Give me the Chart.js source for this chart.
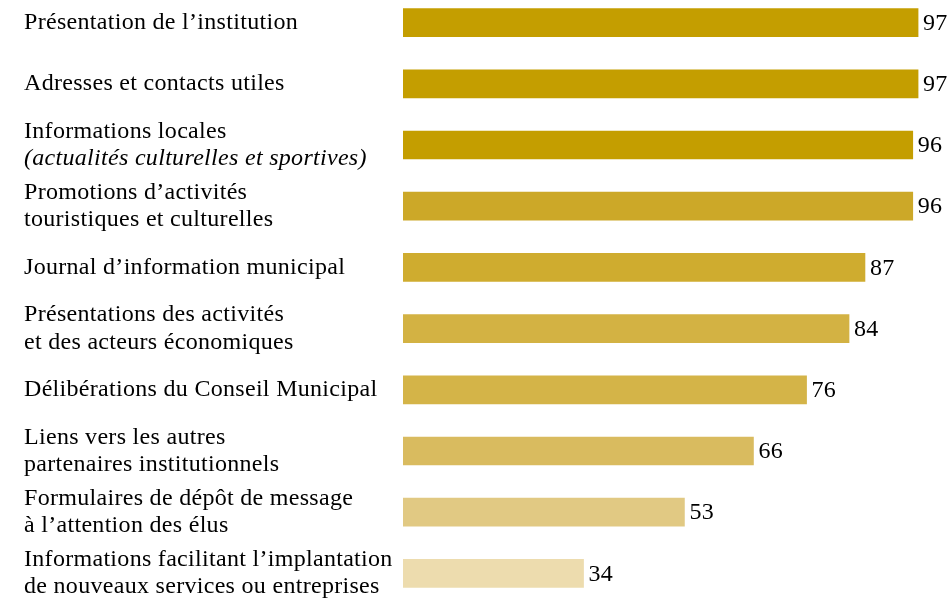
<!DOCTYPE html>
<html>
<head>
<meta charset="utf-8">
<script src="https://cdn.jsdelivr.net/npm/chart.js@4.4.1/dist/chart.umd.min.js"></script>
<style>
  html, body { margin: 0; background: #fff; overflow: hidden; }
  #wrap { width: 951px; height: 604px; overflow: hidden; }
  #barChart { display: block; margin-top: -8px; }
</style>
</head>
<body>
<div id="wrap"><canvas id="barChart" width="951" height="612"></canvas></div>
<script>
// Rubriques du site (une ligne par élément du tableau)
const categories = [
    ['Présentation de l’institution'],
    ['Adresses et contacts utiles'],
    ['Informations locales', '(actualités culturelles et sportives)'],
    ['Promotions d’activités', 'touristiques et culturelles'],
    ['Journal d’information municipal'],
    ['Présentations des activités', 'et des acteurs économiques'],
    ['Délibérations du Conseil Municipal'],
    ['Liens vers les autres', 'partenaires institutionnels'],
    ['Formulaires de dépôt de message', 'à l’attention des élus'],
    ['Informations facilitant l’implantation', 'de nouveaux services ou entreprises']
];
const values = [97, 97, 96, 96, 87, 84, 76, 66, 53, 34];

const barColors = [
    '#c49e00', '#c49e00', '#c49e00',
    '#cca828', '#cfac2f', '#d3b243', '#d4b448',
    '#d9bb5f', '#e1c983', '#eddcae'
];

const FONT = '"Liberation Serif", "DejaVu Serif", serif';

// Libellés à gauche et valeurs en bout de barre
const sideLabels = {
    id: 'sideLabels',
    afterDatasetsDraw(chart) {
        const ctx = chart.ctx;
        const meta = chart.getDatasetMeta(0);
        const lh = 27.5;
        ctx.save();
        ctx.fillStyle = '#000';
        ctx.textAlign = 'left';
        ctx.textBaseline = 'middle';
        ctx.letterSpacing = '0.3px';
        meta.data.forEach((bar, i) => {
            ctx.font = '24px ' + FONT;
            ctx.fillText(String(values[i]), bar.x + 5, bar.y + 1);

            const lines = categories[i];
            const top = bar.y - (lines.length - 1) * lh / 2;
            lines.forEach((t, j) => {
                ctx.font = (t.startsWith('(') ? 'italic ' : '') + '24px ' + FONT;
                ctx.fillText(t, 24, top + j * lh);
            });
        });
        ctx.restore();
    }
};

const ctxBar = document.getElementById('barChart').getContext('2d');
const barChart = new Chart(ctxBar, {
    type: 'bar',
    data: {
        labels: categories.map(c => c.join(' ')),
        datasets: [{
            data: values,
            backgroundColor: barColors,
            borderWidth: 0,
            barThickness: 28
        }]
    },
    options: {
        indexAxis: 'y',
        responsive: false,
        animation: false,
        devicePixelRatio: 1,
        layout: {
            padding: { left: 403, right: 17, top: 0, bottom: 0 }
        },
        scales: {
            x: { display: false, min: 0, max: 100 },
            y: { display: false }
        },
        plugins: {
            legend: { display: false },
            tooltip: { enabled: false }
        }
    },
    plugins: [sideLabels]
});
</script>
</body>
</html>
